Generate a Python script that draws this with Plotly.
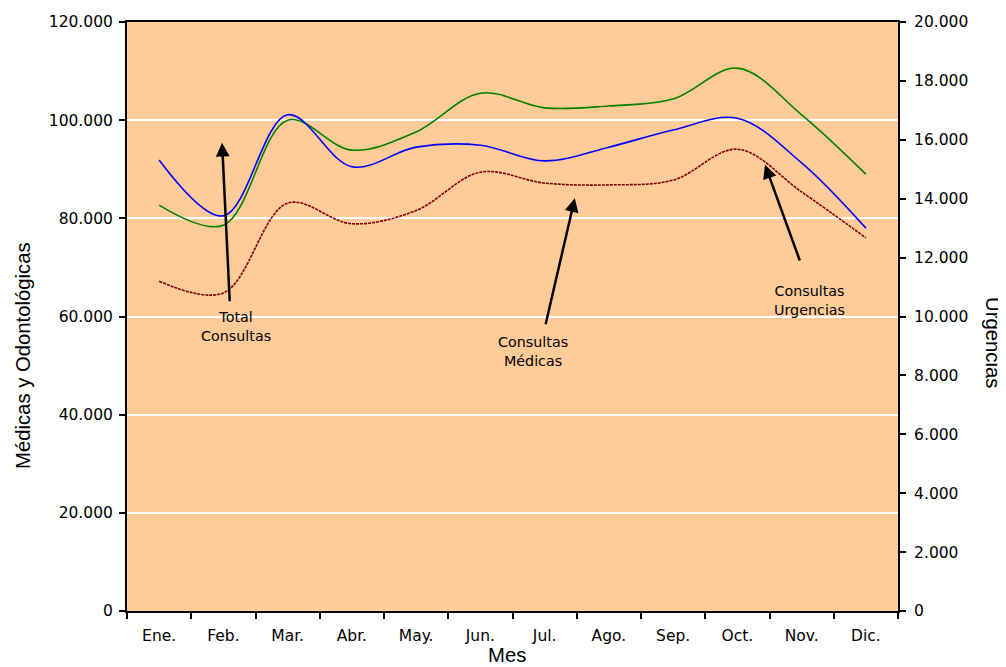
import plotly.graph_objects as go

meses = ["Ene.", "Feb.", "Mar.", "Abr.", "May.", "Jun.", "Jul.", "Ago.", "Sep.", "Oct.", "Nov.", "Dic."]
total_consultas = [82700, 78600, 100000, 93900, 97600, 105500, 102500, 102900, 104300, 110600, 101100, 89000]
consultas_medicas = [91900, 80500, 101100, 90500, 94500, 94900, 91700, 94500, 98000, 100400, 91300, 78000]
consultas_urgencias = [11200, 10800, 13850, 13150, 13600, 14900, 14530, 14470, 14630, 15680, 14230, 12670]

left_ticks = [0, 20000, 40000, 60000, 80000, 100000, 120000]
right_ticks = [0, 2000, 4000, 6000, 8000, 10000, 12000, 14000, 16000, 18000, 20000]

tick_font = dict(family="DejaVu Sans", size=15.5, color="black")
title_font = dict(family="Liberation Sans, Arial", size=20.3, color="black")

# plot area in page pixels (page has an 8px body margin)
PL, PR, PT, PB = 127, 898, 22, 611


def px_x(p):
    return (p - PL) / (PR - PL)


def px_y(p):
    return (PB - p) / (PB - PT)


fig = go.Figure()
fig.add_trace(go.Scatter(x=meses, y=total_consultas, mode="lines", name="Total Consultas",
                         line=dict(color="#008000", width=1.6, shape="spline")))
fig.add_trace(go.Scatter(x=meses, y=consultas_medicas, mode="lines", name="Consultas Médicas",
                         line=dict(color="#0000FF", width=1.6, shape="spline")))
fig.add_trace(go.Scatter(x=meses, y=consultas_urgencias, mode="lines", name="Consultas Urgencias",
                         line=dict(color="#800000", width=1.6, shape="spline", dash="3px,1px"),
                         yaxis="y2"))

# arrows: (head_x, head_y, tail_x, tail_y) in axis coordinates
arrows = [(0.98, 95400, 1.10, 62800), (6.47, 84100, 6.01, 58100), (9.43, 90900, 9.98, 71100)]
for hx, hy, tx, ty in arrows:
    fig.add_annotation(x=hx, y=hy, ax=tx, ay=ty, xref="x", yref="y", axref="x", ayref="y",
                       text="", showarrow=True, arrowhead=2, arrowsize=1.1, arrowwidth=2.5,
                       arrowcolor="black")

labels = [(1.19, 57900, "Total<br>Consultas"), (5.82, 52800, "Consultas<br>Médicas"),
          (10.12, 63200, "Consultas<br>Urgencias")]
for lx, ly, txt in labels:
    fig.add_annotation(x=lx, y=ly, xref="x", yref="y", text=txt, showarrow=False,
                       font=dict(family="DejaVu Sans", size=14.3, color="black"), align="center")

# axis titles
fig.add_annotation(x=px_x(23), y=px_y(356), xref="paper", yref="paper",
                   text="Médicas y Odontológicas", showarrow=False, textangle=-90,
                   font=title_font, xanchor="center", yanchor="middle")
fig.add_annotation(x=px_x(993), y=px_y(342), xref="paper", yref="paper", text="Urgencias",
                   showarrow=False, textangle=90, font=title_font, xanchor="center",
                   yanchor="middle")
fig.add_annotation(x=px_x(507), y=px_y(655), xref="paper", yref="paper", text="Mes",
                   showarrow=False, font=title_font, xanchor="center", yanchor="middle")

fig.update_layout(
    width=998, height=659,
    margin=dict(l=PL - 8, r=1006 - PR, t=PT - 8, b=667 - PB, autoexpand=False),
    paper_bgcolor="white", plot_bgcolor="#FFCC99",
    showlegend=False,
    separators=",.",
    xaxis=dict(type="category", range=[-0.5, 11.5], tickson="boundaries", ticks="outside",
               ticklen=6, tickcolor="black", tickwidth=1.5, showgrid=False,
               ticklabelstandoff=9,
               showline=True, linecolor="black", linewidth=2, mirror=True,
               tickfont=tick_font),
    yaxis=dict(range=[0, 120000], tickvals=left_ticks, tickformat=",d", ticks="outside",
               ticklen=6, tickcolor="black", tickwidth=1.5, showgrid=True, gridcolor="white",
               gridwidth=1.5, zeroline=False, showline=True, linecolor="black", linewidth=2,
               ticklabelstandoff=3,
               mirror=True, tickfont=tick_font),
    yaxis2=dict(range=[0, 20000], tickvals=right_ticks, tickformat=",d", overlaying="y",
                side="right", ticks="outside", ticklen=6, tickcolor="black", tickwidth=1.5,
                ticklabelstandoff=5,
                showgrid=False, zeroline=False, showline=True, linecolor="black", linewidth=2,
                tickfont=tick_font),
)

fig.write_html("out.html")
